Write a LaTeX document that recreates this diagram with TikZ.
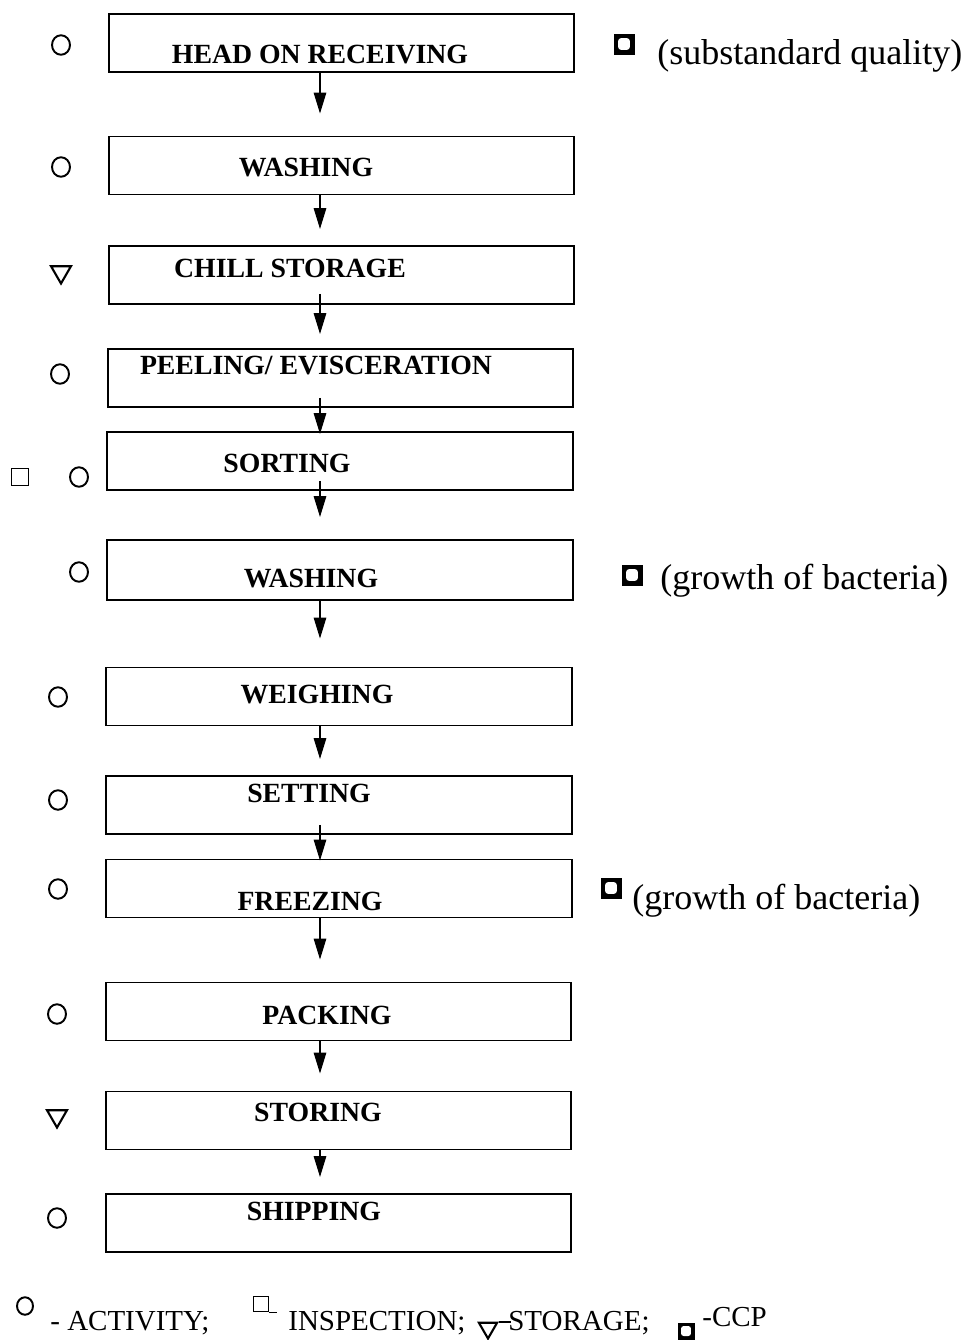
\documentclass[tikz,border=0pt]{standalone}
\usepackage{fontspec}
\setmainfont{Liberation Serif}
\usetikzlibrary{arrows.meta,shapes.geometric}
\tikzstyle{step-box} = [draw, line width=1.1pt, rectangle, inner sep=0pt,
    minimum width=9.32cm, minimum height=1.16cm]
\tikzstyle{step-text} = [inner sep=0pt, font=\fontsize{15.8}{18}\selectfont\bfseries]
\tikzstyle{note-text} = [inner sep=0pt, anchor=base west, font=\fontsize{20.5}{24}\selectfont]
\tikzstyle{key-text} = [inner sep=0pt, anchor=base west, font=\fontsize{16.5}{19}\selectfont]
\tikzstyle{activity} = [draw, ellipse, line width=1.1pt, inner sep=0pt,
    minimum width=0.36cm, minimum height=0.39cm]
\tikzstyle{inspection} = [draw, rectangle, line width=1.1pt, inner sep=0pt, minimum size=0.34cm]
\tikzstyle{storage} = [draw, regular polygon, regular polygon sides=3, shape border rotate=180,
    line width=1.2pt, inner sep=0pt, minimum size=0.46cm]
\tikzstyle{ccp} = [fill=black, rectangle, inner sep=0pt, minimum size=0.42cm,
    path picture={\fill[white, rounded corners=1.8pt]
      ([shift={(2.6pt,2.6pt)}]path picture bounding box.south west) rectangle
      ([shift={(-2.6pt,-2.6pt)}]path picture bounding box.north east);}]
\tikzstyle{flow} = [line width=0.85pt, -{Triangle[length=0.42cm, width=0.25cm]}]

\begin{document}
\begin{tikzpicture}[x=0.02cm, y=-0.02cm]
\useasboundingbox (0,0) rectangle (965,1340);

% process steps
\node[step-box] (b1) at (341.5,43) {};
\node[step-box] (b2) at (341.5,165.5) {};
\node[step-box] (b3) at (341.5,275) {};
\node[step-box] (b4) at (340.5,378) {};
\node[step-box] (b5) at (340,461) {};
\node[step-box, minimum height=1.2cm] (b6) at (340,570) {};
\node[step-box] (b7) at (339,696.5) {};
\node[step-box] (b8) at (339,805) {};
\node[step-box] (b9) at (339,888.5) {};
\node[step-box] (b10) at (338.5,1011.5) {};
\node[step-box] (b11) at (338.5,1120.5) {};
\node[step-box] (b12) at (338.5,1223) {};

\node[step-text] (t1) at (320,55) {HEAD ON RECEIVING};
\node[step-text] (t2) at (306,168) {WASHING};
\node[step-text] (t3) at (290,268) {CHILL STORAGE};
\node[step-text] (t4) at (316,366) {PEELING/ EVISCERATION};
\node[step-text] (t5) at (287,463) {SORTING};
\node[step-text] (t6) at (311,579) {WASHING};
\node[step-text] (t7) at (317,695) {WEIGHING};
\node[step-text] (t8) at (309,793) {SETTING};
\node[step-text] (t9) at (310,901) {FREEZING};
\node[step-text] (t10) at (327,1015) {PACKING};
\node[step-text] (t11) at (318,1112) {STORING};
\node[step-text] (t12) at (314,1211) {SHIPPING};

% arrows: from/to/extend into box/gap before next box (px)
\coordinate (ax) at (320,0);
\foreach \i/\j/\s/\g in {1/2/0/22, 2/3/0/16, 3/4/11/14, 4/5/10/-3, 5/6/10/22,
    6/7/0/28, 7/8/0/16, 8/9/10/-2, 9/10/0/22, 10/11/0/17, 11/12/0/16}
  \draw[flow, shorten <={-\s*0.02cm}, shorten >={\g*0.02cm}]
    (b\i.south -| ax) -- (b\j.north -| ax);

% step symbols
\node[activity] (s1) at (61,45) {};
\node[activity] (s2) at (61,167) {};
\node[storage] (s3) at (61,272) {};
\node[activity] (s4) at (60,374) {};
\node[inspection] (s5a) at (20,477) {};
\node[activity] (s5) at (79,477) {};
\node[activity] (s6) at (79,572) {};
\node[activity] (s7) at (58,697) {};
\node[activity] (s8) at (58,800) {};
\node[activity] (s9) at (58,889) {};
\node[activity] (s10) at (57,1014) {};
\node[storage] (s11) at (57,1116) {};
\node[activity] (s12) at (57,1218) {};

% critical control points
\node[ccp] (c1) at (624,44) {};
\node[note-text] (n1) at (657,64) {(substandard quality)};
\node[ccp] (c6) at (632,575) {};
\node[note-text] (n6) at (660,589) {(growth of bacteria)};
\node[ccp] (c9) at (611,888) {};
\node[note-text] (n9) at (632,909) {(growth of bacteria)};

% key
\node[activity, minimum width=0.32cm, minimum height=0.35cm] (k1) at (25,1306) {};
\node[key-text] (k1t) at (50,1330) {- ACTIVITY;};
\node[inspection, minimum size=0.3cm] (k2) at (261,1304) {};
\draw[line width=1.1pt] (k2.south east) -- ++(8,0);
\node[key-text] (k2t) at (288,1330) {INSPECTION;};
\node[storage, minimum size=0.42cm] (k3) at (488,1328) {};
\draw[line width=1.1pt] (k3.corner 2) -- ++(12,0);
\node[key-text] (k3t) at (508,1330) {STORAGE;};
\node[ccp, minimum size=0.34cm,
  path picture={\fill[white, rounded corners=1.5pt]
    ([shift={(2pt,2pt)}]path picture bounding box.south west) rectangle
    ([shift={(-2pt,-2pt)}]path picture bounding box.north east);}] (k4) at (686,1331) {};
\node[key-text] (k4t) at (702,1326) {-CCP};
\end{tikzpicture}
\end{document}
